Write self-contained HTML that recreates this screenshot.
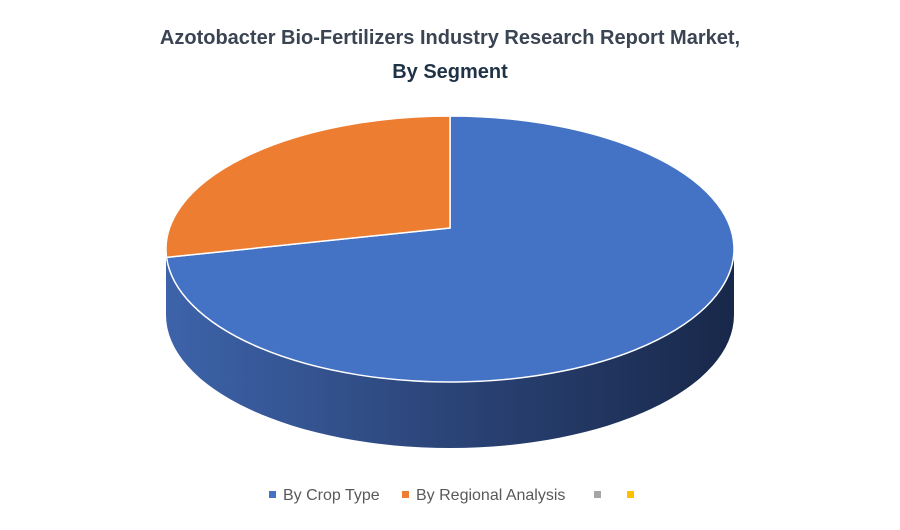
<!DOCTYPE html>
<html><head><meta charset="utf-8"><style>
body{margin:0;background:#fff;width:900px;height:525px;overflow:hidden;font-family:"Liberation Sans",sans-serif}
</style></head><body>
<svg width="900" height="525">
<defs>
<linearGradient id="side" x1="0" x2="1" y1="0" y2="0">
<stop offset="0" stop-color="#3d63aa"/><stop offset="0.5" stop-color="#2b4477"/><stop offset="1" stop-color="#18284a"/>
</linearGradient>
</defs>
<text x="450" y="44" text-anchor="middle" font-size="20" font-weight="bold" fill="#3a4452">Azotobacter Bio-Fertilizers Industry Research Report Market,</text>
<text x="450" y="78" text-anchor="middle" font-size="20" font-weight="bold" fill="#1f3347">By Segment</text>
<g id="pie"></g>
<g font-size="16" fill="#595959">
<rect x="269" y="491" width="7" height="7" fill="#4472c4"/>
<text x="283" y="500">By Crop Type</text>
<rect x="402" y="491" width="7" height="7" fill="#ed7d31"/>
<text x="416" y="500">By Regional Analysis</text>
<rect x="594" y="491" width="7" height="7" fill="#a5a5a5"/>
<rect x="627" y="491" width="7" height="7" fill="#ffc000"/>
</g>
</svg>
<script>
const categories=["By Crop Type","By Regional Analysis"];
const values=[74,26];
const colors=["#4472c4","#ed7d31"];
const cx=450,cy=249,rx=284,ry=133,depth=66,vy=228;
const g=document.getElementById('pie');
const NS="http://www.w3.org/2000/svg";
const total=values.reduce((a,b)=>a+b,0);
function pt(f){const t=2*Math.PI*f;return [cx+rx*Math.sin(t),cy-ry*Math.cos(t)];}
// side wall (front half)
const side=document.createElementNS(NS,'path');
side.setAttribute('d',`M${cx-rx},${cy} A${rx},${ry} 0 0 0 ${cx+rx},${cy} L${cx+rx},${cy+depth} A${rx},${ry} 0 0 1 ${cx-rx},${cy+depth} Z`);
side.setAttribute('fill','url(#side)');


g.appendChild(side);
let acc=0;
values.forEach((v,i)=>{
 const f0=acc/total, f1=(acc+v)/total; acc+=v;
 const p0=pt(f0),p1=pt(f1);
 const large=(f1-f0)>0.5?1:0;
 const p=document.createElementNS(NS,'path');
 p.setAttribute('d',`M${cx},${vy} L${p0[0]},${p0[1]} A${rx},${ry} 0 ${large} 1 ${p1[0]},${p1[1]} Z`);
 p.setAttribute('fill',colors[i]);
 p.setAttribute('stroke','#fff');
 p.setAttribute('stroke-width','1.5');
 
 
 g.appendChild(p);
});
</script>
</body></html>
